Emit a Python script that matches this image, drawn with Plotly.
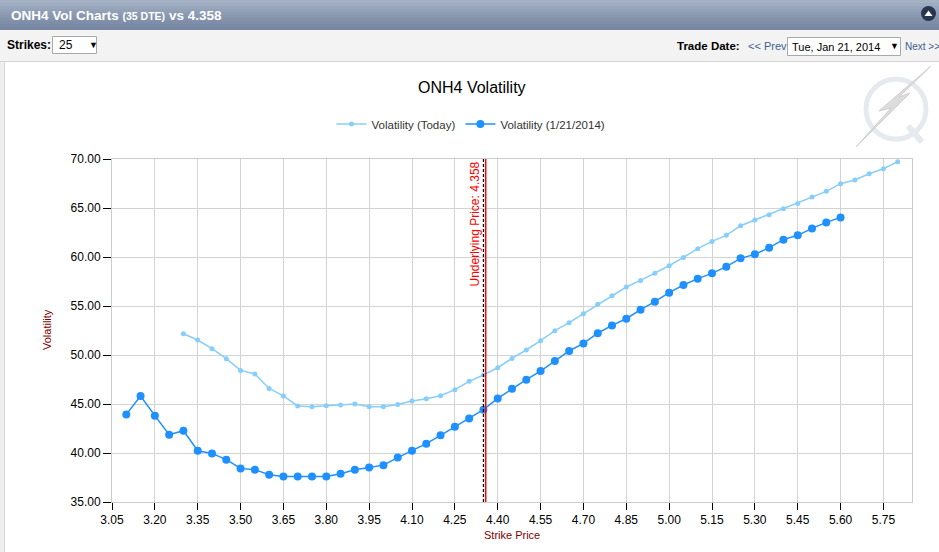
import plotly.graph_objects as go

# --- dati ---
strikes_today = [3.30, 3.35, 3.40, 3.45, 3.50, 3.55, 3.60, 3.65, 3.70, 3.75,
                 3.80, 3.85, 3.90, 3.95, 4.00, 4.05, 4.10, 4.15, 4.20, 4.25,
                 4.30, 4.35, 4.40, 4.45, 4.50, 4.55, 4.60, 4.65, 4.70, 4.75,
                 4.80, 4.85, 4.90, 4.95, 5.00, 5.05, 5.10, 5.15, 5.20, 5.25,
                 5.30, 5.35, 5.40, 5.45, 5.50, 5.55, 5.60, 5.65, 5.70, 5.75,
                 5.80]
vol_today = [52.17, 51.53, 50.64, 49.62, 48.43, 48.06, 46.59, 45.82, 44.80, 44.72,
             44.83, 44.90, 45.00, 44.72, 44.72, 44.96, 45.31, 45.54, 45.85, 46.46,
             47.31, 47.96, 48.70, 49.65, 50.51, 51.46, 52.48, 53.30, 54.21, 55.18,
             56.05, 56.94, 57.61, 58.33, 59.11, 59.96, 60.85, 61.59, 62.21, 63.19,
             63.78, 64.32, 64.93, 65.47, 66.12, 66.70, 67.48, 67.86, 68.50, 69.01,
             69.73]

strikes_0121 = [3.10, 3.15, 3.20, 3.25, 3.30, 3.35, 3.40, 3.45, 3.50, 3.55,
                3.60, 3.65, 3.70, 3.75, 3.80, 3.85, 3.90, 3.95, 4.00, 4.05,
                4.10, 4.15, 4.20, 4.25, 4.30, 4.35, 4.40, 4.45, 4.50, 4.55,
                4.60, 4.65, 4.70, 4.75, 4.80, 4.85, 4.90, 4.95, 5.00, 5.05,
                5.10, 5.15, 5.20, 5.25, 5.30, 5.35, 5.40, 5.45, 5.50, 5.55,
                5.60]
vol_0121 = [43.94, 45.82, 43.81, 41.87, 42.28, 40.23, 39.96, 39.32, 38.43, 38.30,
            37.79, 37.61, 37.61, 37.61, 37.61, 37.89, 38.30, 38.53, 38.76, 39.53,
            40.23, 40.95, 41.80, 42.68, 43.53, 44.42, 45.57, 46.56, 47.48, 48.36,
            49.39, 50.41, 51.18, 52.22, 53.02, 53.70, 54.62, 55.44, 56.36, 57.14,
            57.79, 58.33, 59.01, 59.86, 60.27, 60.95, 61.77, 62.21, 62.92, 63.53,
            64.04]

x_ticks = [3.05, 3.20, 3.35, 3.50, 3.65, 3.80, 3.95, 4.10, 4.25, 4.40,
           4.55, 4.70, 4.85, 5.00, 5.15, 5.30, 5.45, 5.60, 5.75]
y_ticks = [35, 40, 45, 50, 55, 60, 65, 70]

UNDERLYING = 4.358
ATM_STRIKE = 4.35

FONT = "Liberation Sans, Arial, sans-serif"
W, H = 939, 552
# area del grafico in pixel
L, R, T, B = 112, 912, 159, 502


def px(x):
    return (x - L) / (R - L)


def py(y):
    return (B - y) / (B - T)


def rect(x0, y0, x1, y1, fill, line=None, lw=1):
    return dict(type="rect", xref="paper", yref="paper", layer="below",
                x0=px(x0), x1=px(x1), y0=py(y0), y1=py(y1),
                fillcolor=fill, line=dict(color=line or fill, width=lw if line else 0))


def testo(x, y, s, size=12, color="#000", xanchor="left", yanchor="middle", **kw):
    return dict(xref="paper", yref="paper", x=px(x), y=py(y), text=s, showarrow=False,
                xanchor=xanchor, yanchor=yanchor,
                font=dict(family=FONT, size=size, color=color), **kw)


fig = go.Figure()

fig.add_trace(go.Scatter(
    x=strikes_today, y=vol_today, name="Volatility (Today)", mode="lines+markers",
    line=dict(color="#87cefa", width=1.5), marker=dict(size=5, color="#87cefa")))
fig.add_trace(go.Scatter(
    x=strikes_0121, y=vol_0121, name="Volatility (1/21/2014)", mode="lines+markers",
    line=dict(color="#1e90ff", width=1.5), marker=dict(size=8, color="#1e90ff")))

shapes = []

# --- intestazione (barra sfumata) ---
grad = ["#a4b1c5", "#9eabc0", "#98a6bb", "#92a1b7", "#8d9cb3",
        "#8897af", "#8392ab", "#7e8ea8", "#7a8aa5", "#7787a2"]
for i, c in enumerate(grad):
    shapes.append(rect(0, i * 3, W, i * 3 + 3, c))
shapes.append(rect(0, 30, W, 61, "#f3f3f3"))
shapes.append(dict(type="line", xref="paper", yref="paper", layer="below",
                   x0=px(0), x1=px(W), y0=py(61.5), y1=py(61.5),
                   line=dict(color="#d4d4d4", width=1)))
shapes.append(rect(0, 62, 4, H, "#efefef"))
shapes.append(dict(type="line", xref="paper", yref="paper", layer="below",
                   x0=px(4.5), x1=px(4.5), y0=py(62), y1=py(H),
                   line=dict(color="#d8d8d8", width=1)))

# menu a tendina
shapes.append(rect(52.5, 36.5, 96.5, 53.5, "#ffffff", "#a9a9a9"))
shapes.append(rect(787.5, 37.5, 900.5, 55.5, "#ffffff", "#a9a9a9"))

# icona a cerchio
shapes.append(dict(type="circle", xref="paper", yref="paper",
                   x0=px(921), x1=px(936), y0=py(6), y1=py(21),
                   fillcolor="#2a3650", line=dict(width=0)))
shapes.append(dict(type="path", xref="paper", yref="paper",
                   path=f"M {px(924.5)} {py(16)} L {px(932.5)} {py(16)} L {px(928.5)} {py(10.5)} Z",
                   fillcolor="#ffffff", line=dict(width=0)))

# logo in filigrana
shapes.append(dict(type="circle", xref="paper", yref="paper", layer="below",
                   x0=px(866), x1=px(926), y0=py(79), y1=py(139),
                   fillcolor="rgba(0,0,0,0)", line=dict(color="#e6e9ed", width=5)))
shapes.append(dict(type="line", xref="paper", yref="paper", layer="below",
                   x0=px(908), x1=px(922), y0=py(126), y1=py(142),
                   line=dict(color="#e6e9ed", width=6)))
bolt = [(931, 66), (879, 111), (891, 108), (856, 147), (910, 93), (899, 97)]
path = "M " + " L ".join(f"{px(a)} {py(b)}" for a, b in bolt) + " Z"
shapes.append(dict(type="path", xref="paper", yref="paper", layer="below",
                   path=path, fillcolor="#dcdcdc", line=dict(color="#d0d0d0", width=1)))

# linee verticali: strike ATM e prezzo sottostante
shapes.append(dict(type="line", xref="x", yref="paper", x0=ATM_STRIKE, x1=ATM_STRIKE,
                   y0=0, y1=1, line=dict(color="#000000", width=1.2, dash="3px,2px")))
shapes.append(dict(type="line", xref="x", yref="paper", x0=UNDERLYING, x1=UNDERLYING,
                   y0=0, y1=1, line=dict(color="#ff0000", width=1.5)))

annotations = [
    testo(9, 15, "<b>ONH4 Vol Charts <span style='font-size:10.5px'>(35 DTE)</span> vs 4.358</b>",
          size=13.5, color="#ffffff"),
    testo(5, 45, "<b>Strikes:</b>", size=12, color="#000"),
    testo(57, 45, "25", size=12, color="#000"),
    testo(87, 45, "▼", size=9, color="#000"),
    testo(675, 46, "<b>Trade Date:</b>", size=11.5, color="#000"),
    testo(746, 46, "&lt;&lt; Prev", size=11, color="#3f5f8f"),
    testo(790, 46.5, "Tue, Jan 21, 2014", size=11, color="#000"),
    testo(888, 46, "▼", size=9, color="#000"),
    testo(903, 46, "Next &gt;&gt;", size=10, color="#3f5f8f"),
    testo(472, 88, "ONH4 Volatility", size=16, color="#000", xanchor="center"),
    testo(474, 160, "Underlying Price: 4.358", size=12, color="#ff0000",
          xanchor="center", yanchor="top", textangle=-90),
    testo(47, 330, "Volatility", size=11, color="#800000", xanchor="center", textangle=-90),
    testo(512, 535, "Strike Price", size=11, color="#800000", xanchor="center"),
]

fig.update_layout(
    width=W, height=H, autosize=False,
    margin=dict(l=L, r=W - R, t=T, b=H - B),
    paper_bgcolor="#ffffff", plot_bgcolor="#ffffff",
    font=dict(family=FONT, size=12, color="#000"),
    showlegend=True,
    legend=dict(orientation="h", x=px(471), y=py(124), xanchor="center", yanchor="middle",
                font=dict(size=11.5, color="#333"), bgcolor="rgba(0,0,0,0)",
                itemwidth=30, tracegroupgap=0),
    shapes=shapes,
    annotations=annotations,
)
fig.update_xaxes(range=[3.05, 5.85], tickvals=x_ticks, tickformat=".2f",
                 showgrid=True, gridcolor="#d3d3d3", gridwidth=1,
                 showline=True, linecolor="#cccccc", mirror=True,
                 ticks="outside", ticklen=7, tickcolor="#000", zeroline=False,
                 tickfont=dict(size=12, color="#000"))
fig.update_yaxes(range=[35, 70], tickvals=y_ticks, tickformat=".2f",
                 showgrid=True, gridcolor="#d3d3d3", gridwidth=1,
                 showline=True, linecolor="#cccccc", mirror=True,
                 ticks="outside", ticklen=8, tickcolor="#000", zeroline=False,
                 tickfont=dict(size=12, color="#000"))

fig.write_html("out.html", config={"displayModeBar": False},
               post_script="document.body.style.margin='0';")
